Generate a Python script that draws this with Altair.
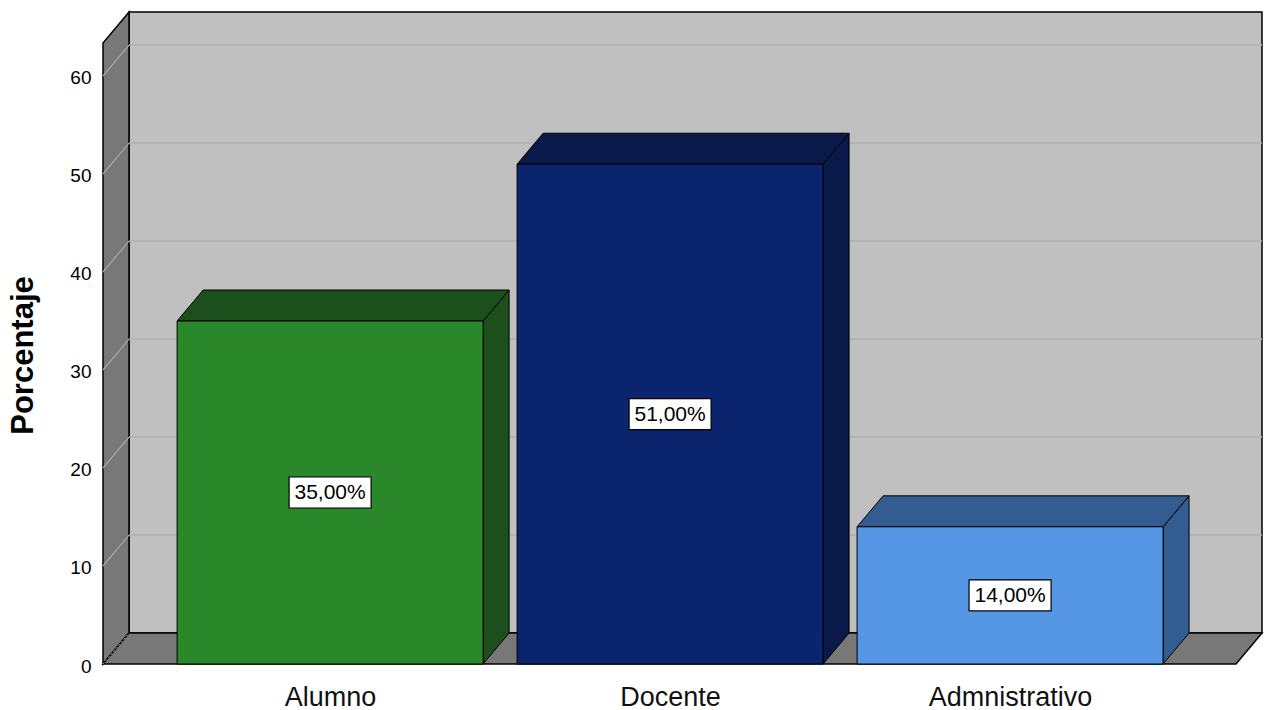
import json
import altair as alt
import pandas as pd

# ---- data -------------------------------------------------------------
CATEGORIES = ["Alumno", "Docente", "Admnistrativo"]
PERCENTS = [35.0, 51.0, 14.0]
FRONT_COLORS = ["#2a882a", "#0a256e", "#5596e5"]
SHADE_COLORS = ["#1c4f1c", "#08194a", "#335c90"]
Y_TICKS = [0, 10, 20, 30, 40, 50, 60]
Y_TITLE = "Porcentaje"

# ---- geometry / style --------------------------------------------------
W, H = 1159, 652
Y_MAX = 66.53
DEPTH_Y = 3.16
X_MIN, X_MAX = -0.668, 2.741
DEPTH_X = 0.0765
HALF = 0.45
WALL_TOP = Y_MAX - DEPTH_Y
FONT = "Liberation Sans"

labels = [f"{v:.2f}".replace(".", ",") + "%" for v in PERCENTS]
idx = list(range(len(CATEGORIES)))

front = pd.DataFrame({
    "cat": CATEGORIES,
    "x0": [i - HALF for i in idx],
    "x1": [i + HALF for i in idx],
    "y0": [0.0] * len(idx),
    "y1": PERCENTS,
    "xc": idx,
    "ym": [v / 2 for v in PERCENTS],
    "label": labels,
})

side_rows, top_rows = [], []
for i, c, v in zip(idx, CATEGORIES, PERCENTS):
    side_rows.append({"cat": c, "x": i + HALF, "y": 0.0, "y2": v})
    side_rows.append({"cat": c, "x": i + HALF + DEPTH_X, "y": DEPTH_Y, "y2": v + DEPTH_Y})
    top_rows.append({"cat": c, "y": v, "x": i - HALF, "x2": i + HALF})
    top_rows.append({"cat": c, "y": v + DEPTH_Y, "x": i - HALF + DEPTH_X, "x2": i + HALF + DEPTH_X})
side = pd.DataFrame(side_rows)
top = pd.DataFrame(top_rows)

back_wall = pd.DataFrame({"x": [X_MIN + DEPTH_X], "x2": [X_MAX], "y": [DEPTH_Y], "y2": [Y_MAX]})
side_wall = pd.DataFrame({"x": [X_MIN, X_MIN + DEPTH_X], "y": [0.0, DEPTH_Y], "y2": [WALL_TOP, Y_MAX]})
floor = pd.DataFrame({"y": [0.0, DEPTH_Y], "x": [X_MIN, X_MIN + DEPTH_X], "x2": [X_MAX - DEPTH_X, X_MAX]})
grid_back = pd.DataFrame({"x": X_MIN + DEPTH_X, "x2": X_MAX, "y": [t + DEPTH_Y for t in Y_TICKS[1:]]})
grid_side = pd.DataFrame({"x": X_MIN, "x2": X_MIN + DEPTH_X, "y": Y_TICKS[1:],
                          "y2": [t + DEPTH_Y for t in Y_TICKS[1:]]})
grid_floor = pd.DataFrame({"x": [X_MIN], "x2": [X_MIN + DEPTH_X], "y": [0.0], "y2": [DEPTH_Y]})

xs = alt.Scale(domain=[X_MIN, X_MAX], nice=False, zero=False)
ys = alt.Scale(domain=[0, Y_MAX], nice=False, zero=False)
shade = alt.Scale(domain=CATEGORIES, range=SHADE_COLORS)
frontc = alt.Scale(domain=CATEGORIES, range=FRONT_COLORS)

def X(f, **kw):
    return alt.X(f, type="quantitative", scale=xs, axis=None, **kw)

def Y(f, **kw):
    return alt.Y(f, type="quantitative", scale=ys, axis=None, **kw)

L_back = alt.Chart(back_wall).mark_rect(fill="#c0c0c0", stroke="black", strokeWidth=1.5).encode(
    x=X("x"), x2="x2", y=Y("y"), y2="y2")

L_side = alt.Chart(side_wall).mark_area(fill="#787878", stroke="black", strokeWidth=1.5, orient="vertical").encode(
    x=X("x"), y=Y("y", stack=None), y2="y2")

L_floor = alt.Chart(floor).mark_area(fill="#787878", stroke="black", strokeWidth=1.5, orient="horizontal").encode(
    y=Y("y"), x=X("x", stack=None), x2="x2")

L_gb = alt.Chart(grid_back).mark_rule(color="#b0b0b0", strokeWidth=1.5).encode(
    x=X("x"), x2="x2", y=Y("y"))

L_gs = alt.Chart(grid_side).mark_rule(color="#a6a6a6", strokeWidth=1.2).encode(
    x=X("x"), x2="x2", y=Y("y"), y2="y2")

L_gf = alt.Chart(grid_floor).mark_rule(color="#a6a6a6", strokeWidth=1, strokeDash=[2, 2]).encode(
    x=X("x"), x2="x2", y=Y("y"), y2="y2")

L_bside = alt.Chart(side).mark_area(stroke="black", strokeWidth=1, orient="vertical", opacity=1).encode(
    x=X("x"), y=Y("y", stack=None), y2="y2",
    color=alt.Color("cat:N", scale=shade, legend=None))

L_btop = alt.Chart(top).mark_area(stroke="black", strokeWidth=1, orient="horizontal", opacity=1).encode(
    y=Y("y"), x=X("x", stack=None), x2="x2",
    color=alt.Color("cat:N", scale=shade, legend=None))

L_shades = alt.layer(L_bside, L_btop)

label_expr = json.dumps(CATEGORIES) + "[round(datum.value)]"

L_front = alt.Chart(front).mark_rect(stroke="black", strokeWidth=1).encode(
    x=alt.X("x0:Q", scale=xs, axis=alt.Axis(
        values=idx, labelExpr=label_expr, domain=False, ticks=False, grid=False,
        labelFont=FONT, labelFontSize=27, labelColor="#111111", labelBaseline="alphabetic",
        labelPadding=41, labelFlush=False, labelOverlap=False, title=None)),
    x2="x1",
    y=alt.Y("y0:Q", scale=ys, axis=alt.Axis(
        values=Y_TICKS, domain=False, ticks=False, grid=False,
        labelFont=FONT, labelFontSize=19, labelColor="black", labelBaseline="middle",
        labelOffset=2, labelPadding=12,
        title=Y_TITLE, titleFont=FONT, titleFontSize=31, titleFontWeight="bold",
        titleColor="black", titleAngle=270, titleAlign="center", titleBaseline="alphabetic",
        titleX=-71, titleY=343)),
    y2="y1",
    color=alt.Color("cat:N", scale=frontc, legend=None))

BOX = "M-1,-0.378 L1,-0.378 L1,0.378 L-1,0.378 Z"
L_box = alt.Chart(front).mark_point(shape=BOX, size=6724, filled=True, fill="white",
                                    stroke="black", strokeWidth=1.2, opacity=1).encode(
    x=X("xc"), y=Y("ym"))

L_text = alt.Chart(front).mark_text(font=FONT, fontSize=21, color="black",
                                    align="center", baseline="middle", dy=1).encode(
    x=X("xc"), y=Y("ym"), text="label:N")

chart = alt.layer(L_back, L_side, L_floor, L_gb, L_gs, L_gf, L_shades, L_front, L_box, L_text).resolve_scale(
    color="independent"
).resolve_axis(x="independent", y="independent").properties(
    width=W, height=H,
    padding={"left": 103, "top": 12, "right": 4, "bottom": 46},
    autosize=alt.AutoSizeParams(type="none"),
    background="white",
).configure_view(stroke=None)

chart.save("out.html", embed_options={"renderer": "svg", "actions": False})
